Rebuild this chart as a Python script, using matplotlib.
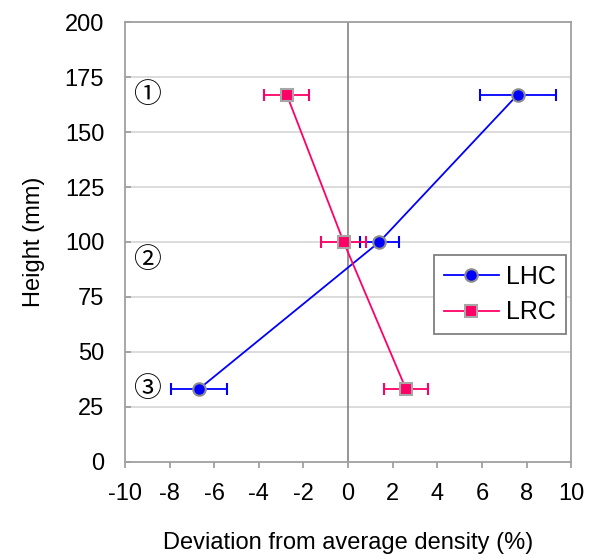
import matplotlib
matplotlib.use('Agg')
import matplotlib.pyplot as plt
from matplotlib.lines import Line2D

# heights of the three measurement positions (mm)
heights = [167, 100, 33]

lhc_dev = [7.6, 1.4, -6.7]
lhc_err = [1.7, 0.87, 1.25]

lrc_dev = [-2.75, -0.2, 2.6]
lrc_err = [1.0, 1.0, 1.0]

region_labels = ['①', '②', '③']
region_heights = [167, 92, 33]

plt.rcParams['font.family'] = ['Liberation Sans', 'DejaVu Sans']
plt.rcParams['axes.unicode_minus'] = False

fig = plt.figure(figsize=(5.9, 5.55), dpi=100)
ax = fig.add_axes([0.212, 0.168, 0.756, 0.792])

grey = '#a0a0a0'
for y in range(25, 201, 25):
    ax.axhline(y, color='#d9d9d9', lw=1.3, zorder=0)
ax.axvline(0, color='#8c8c8c', lw=1.3, zorder=1)

styles = {
    'LHC': dict(color='#0000ff', marker='o', ms=9, mfc='#0000ff', mec='#8c8c8c'),
    'LRC': dict(color='#ff0066', marker='s', ms=8.5, mfc='#ff0066', mec='#a6a6a6'),
}

for name, dev, err in [('LHC', lhc_dev, lhc_err), ('LRC', lrc_dev, lrc_err)]:
    ax.errorbar(dev, heights, xerr=err, lw=1.3, mew=1.5,
                capsize=4.5, elinewidth=1.3, capthick=1.3, zorder=3,
                **styles[name])

for lab, h in zip(region_labels, region_heights):
    ax.text(-9.0, h, lab, fontsize=20, ha='center', va='center',
            family=['Noto Sans CJK JP', 'DejaVu Sans'])

ax.set_xlim(-10, 10)
ax.set_ylim(0, 200)
ax.set_xticks(range(-10, 11, 2))
ax.set_yticks(range(0, 201, 25))
ax.tick_params(labelsize=17, color=grey, length=4, width=1.3)
ax.tick_params(axis='x', direction='out', pad=11)
ax.tick_params(axis='y', direction='in', pad=15)
for s in ax.spines.values():
    s.set_color(grey)
    s.set_linewidth(1.3)

ax.set_xlabel('Deviation from average density (%)', fontsize=17, labelpad=20)
ax.set_ylabel('Height (mm)', fontsize=17, labelpad=14)

handles = [Line2D([], [], lw=1.3, mew=1.5, **styles[n]) for n in styles]
leg = ax.legend(handles, list(styles), loc='center right',
                bbox_to_anchor=(0.989, 0.38), fontsize=18,
                fancybox=False, edgecolor='#808080', framealpha=1,
                handlelength=2.2, borderpad=0.4, labelspacing=0.45,
                handletextpad=0.3, borderaxespad=0)
leg.get_frame().set_linewidth(1.3)

fig.savefig('out.png', dpi=100)
